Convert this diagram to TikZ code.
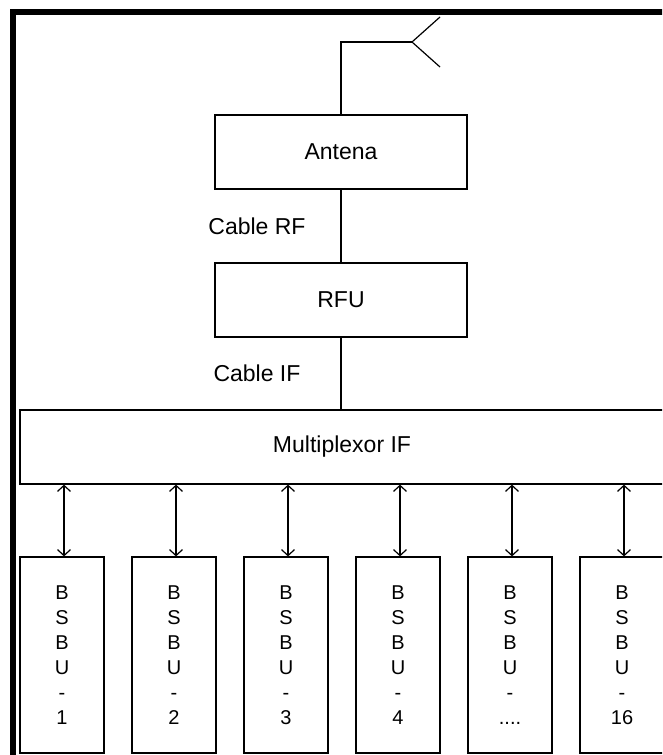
\documentclass[tikz,border=0pt]{standalone}
\usepackage{fontspec}
\setmainfont{Liberation Sans}
\usetikzlibrary{arrows.meta}

\newcommand{\bsbuDots}{....}

\begin{document}
\begin{tikzpicture}[x=1pt,y=-1pt]
% y is flipped so that coordinates read like the pixel layout

% style
\tikzset{
    every node/.style={font=\fontsize{23}{27}\selectfont},
    baseLine/.style={draw, line width=1.2pt},
    boxNode/.style={baseLine, rectangle, inner sep=0pt},
    unitNode/.style={boxNode, minimum width=84pt, minimum height=196pt, align=center, font=\fontsize{20}{25}\selectfont},
    arrowLine/.style={baseLine, {Straight Barb[length=6pt,width=13pt]}-{Straight Barb[length=6pt,width=13pt]}},
    frameLine/.style={draw, line width=6pt}
}

\useasboundingbox (0,0) rectangle (662,755);
\clip (0,0) rectangle (662,755);

% frame
\draw[frameLine] (13,770) -- (13,12) -- (675,12);

% boxes
\node[boxNode, minimum width=252pt, minimum height=74pt] (antena) at (341,152) {Antena};
\node[boxNode, minimum width=252pt, minimum height=74pt] (rfu)    at (341,300) {RFU};
\node[boxNode, minimum width=644pt, minimum height=74pt] (mux)    at (342,447) {Multiplexor IF};

\foreach \i/\t in {1/1, 2/2, 3/3, 4/4, 5/\bsbuDots, 6/16} {
    \node[unitNode] (bsbu\i) at ({62+112*(\i-1)},655) {B\\S\\B\\U\\-\\\t};
}

% labels
\node (cableRF) at (257,226) {Cable RF};
\node (cableIF) at (257,373) {Cable IF};

% antenna
\coordinate (feed)    at (412,42);
\coordinate (tipUp)   at (440,17);
\coordinate (tipDown) at (440,67);
\draw[baseLine] (antena.north) |- (feed);
\draw[baseLine] (tipUp) -- (feed) -- (tipDown);

% lines
\draw[baseLine] (antena) -- (rfu);
\draw[baseLine] (rfu.south) -- (rfu.south |- mux.north);

% arrows
\foreach \i in {1,...,6} {
    \draw[arrowLine] ([xshift=2pt]bsbu\i.north) -- ([xshift=2pt]bsbu\i.north |- mux.south);
}

\end{tikzpicture}
\end{document}
